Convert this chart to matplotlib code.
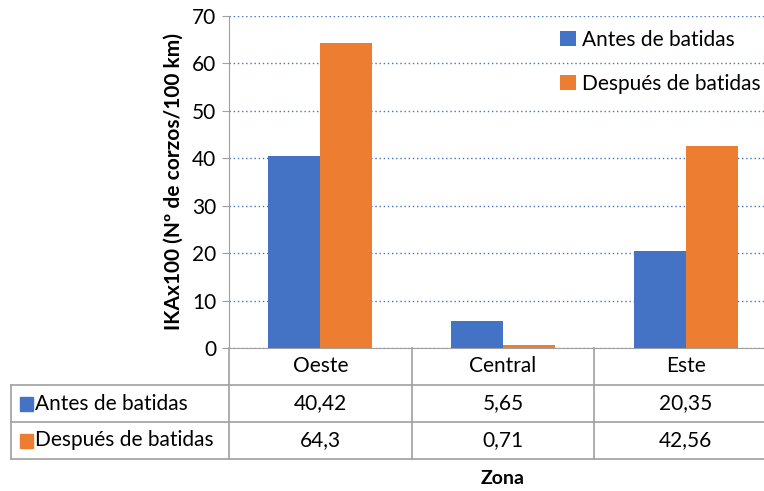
import numpy as np
import matplotlib.pyplot as plt
from matplotlib.lines import Line2D
from matplotlib.patches import Rectangle

zones = ["Oeste", "Central", "Este"]
antes = [40.42, 5.65, 20.35]
despues = [64.3, 0.71, 42.56]
series = ["Antes de batidas", "Después de batidas"]
colors = ["#4472c4", "#ed7d31"]
yticks = [0, 10, 20, 30, 40, 50, 60, 70]

plt.rcParams['font.family'] = ['Lato', 'DejaVu Sans']

W, H = 764, 491
fig = plt.figure(figsize=(W / 100, H / 100), dpi=100)

def fx(px):
    return px / W

def fy(py):
    return 1 - py / H

# axes from x=229 to 777 px (runs off the right edge like the original)
ax_l, ax_r = 229, 777
ax = fig.add_axes([fx(ax_l), fy(348), fx(ax_r) - fx(ax_l), fy(16) - fy(348)])
x = np.arange(len(zones))
bw = 0.285
ax.bar(x - bw / 2, antes, bw, color=colors[0], label=series[0], zorder=3)
ax.bar(x + bw / 2, despues, bw, color=colors[1], label=series[1], zorder=3)
ax.set_xlim(-0.5, len(zones) - 0.5)
ax.set_ylim(0, 70)
ax.set_yticks(yticks)
ax.set_xticks([])
ax.tick_params(axis='y', labelsize=15, length=5, color='#a0a0a0', pad=4)
ax.yaxis.grid(True, linestyle=(0, (1, 2)), color='#4472c4', linewidth=1)
for s in ['top', 'right']:
    ax.spines[s].set_visible(False)
ax.spines['left'].set_color('#a0a0a0')
ax.spines['bottom'].set_color('#a0a0a0')
ax.set_ylabel("IKAx100 (Nº de corzos/100 km)", fontsize=15, fontweight='bold', labelpad=6)

leg_x = (560 - ax_l) / (ax_r - ax_l)
leg_y = 1 - (30 - 16) / (348 - 16)
ax.legend(loc='upper left', bbox_to_anchor=(leg_x, leg_y), borderaxespad=0, borderpad=0,
          frameon=False, fontsize=15, handlelength=0.75, handleheight=0.75,
          handletextpad=0.3, labelspacing=1.15)

# data table under the axes
gray = '#a0a0a0'
col_edges = [229, 412, 594, 777]
row_edges = [348, 385, 422, 459]

def hline(py, x0, x1):
    fig.add_artist(Line2D([fx(x0), fx(x1)], [fy(py), fy(py)], color=gray, lw=1.2))

def vline(px, y0, y1):
    fig.add_artist(Line2D([fx(px), fx(px)], [fy(y0), fy(y1)], color=gray, lw=1.2))

for r in row_edges[1:]:
    hline(r, 11, 777)
vline(11, row_edges[1], row_edges[3])
for c in col_edges[:-1]:
    vline(c, row_edges[0], row_edges[3])

def fmt(v):
    return str(v).replace('.', ',')

for i, z in enumerate(zones):
    cx = (col_edges[i] + col_edges[i + 1]) / 2
    fig.text(fx(cx), fy((row_edges[0] + row_edges[1]) / 2), z, ha='center', va='center', fontsize=15)
    for r, vals in enumerate([antes, despues]):
        fig.text(fx(cx), fy((row_edges[r + 1] + row_edges[r + 2]) / 2), fmt(vals[i]),
                 ha='center', va='center', fontsize=15)

for r, name in enumerate(series):
    cy = (row_edges[r + 1] + row_edges[r + 2]) / 2
    fig.add_artist(Rectangle((fx(20), fy(cy + 7)), fx(13), fy(cy - 7) - fy(cy + 7),
                             color=colors[r], transform=fig.transFigure))
    fig.text(fx(35), fy(cy), name, ha='left', va='center', fontsize=15)

fig.text(fx(503), fy(478), "Zona", ha='center', va='center', fontsize=14, fontweight='bold')

fig.savefig("out.png", dpi=100)
